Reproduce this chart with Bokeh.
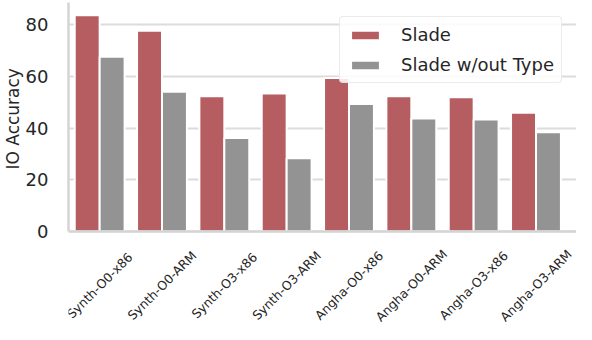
import math
from bokeh.plotting import figure
from bokeh.models import (ColumnDataSource, Range1d, FixedTicker, Title,
                          Legend, LegendItem, LabelSet)
from bokeh.core.properties import value
from bokeh.transform import dodge
from bokeh.embed import file_html
from bokeh.resources import INLINE

categories = ["Synth-O0-x86", "Synth-O0-ARM", "Synth-O3-x86", "Synth-O3-ARM",
              "Angha-O0-x86", "Angha-O0-ARM", "Angha-O3-x86", "Angha-O3-ARM"]
slade = [83.7, 77.7, 52.3, 53.4, 59.4, 52.3, 51.9, 45.9]
slade_wo_type = [67.6, 54.1, 36.2, 28.3, 49.3, 43.7, 43.3, 38.4]
y_ticks = [0, 20, 40, 60, 80]

FONT = "DejaVu Sans"
TXT = "#262626"
RED = "#b55d60"
GREY = "#939393"
SPINE = "#d4d4d4"

Y_TOP = 88.6
Y_LABEL_ROOM = 35.2   # space below zero (in value units) for rotated labels

idx = list(range(len(categories)))
src = ColumnDataSource(dict(x=idx, cat=categories, zero=[0] * len(idx),
                            slade=slade, wo=slade_wo_type))

p = figure(width=576, height=324, output_backend="svg", toolbar_location=None,
           x_range=Range1d(-0.5, 7.65), y_range=Range1d(-Y_LABEL_ROOM, Y_TOP),
           x_axis_location=None,
           min_border_left=68, min_border_right=0, min_border_top=2,
           min_border_bottom=2)
p.outline_line_color = None
p.background_fill_color = "white"
p.border_fill_color = "white"

# grid
p.ygrid.ticker = FixedTicker(ticks=y_ticks)
p.ygrid.grid_line_color = "#dcdcdc"
p.ygrid.grid_line_width = 2
p.xgrid.visible = False

r1 = p.vbar(x=dodge("x", -0.2, range=p.x_range), top="slade", width=0.4,
            source=src, fill_color=RED, line_color="white", line_width=2)
r2 = p.vbar(x=dodge("x", 0.2, range=p.x_range), top="wo", width=0.4,
            source=src, fill_color=GREY, line_color="white", line_width=2)

# bottom spine at zero, drawn above the bars
p.hspan(y=[0], line_color=SPINE, line_width=2.5)

# y axis (line only from 0 to the top)
ya = p.yaxis[0]
ya.ticker = FixedTicker(ticks=y_ticks)
ya.bounds = (0, Y_TOP)
ya.major_label_text_font = FONT
ya.major_label_text_font_size = "18px"
ya.major_label_text_color = TXT
ya.major_label_standoff = 14
ya.major_tick_line_color = None
ya.minor_tick_line_color = None
ya.axis_line_color = SPINE
ya.axis_line_width = 2.5

ylabel = Title(text="IO Accuracy", align="left", offset=153,
               text_font=FONT, text_font_size="17px",
               text_font_style="normal", text_color=TXT, standoff=0)
p.add_layout(ylabel, "left")

# category labels, rotated 45 degrees and centred under each group
labels = LabelSet(x="x", y="zero", text="cat", source=src,
                  angle=math.pi / 4, text_align="center",
                  text_baseline="middle", y_offset=-54,
                  text_font=value(FONT), text_font_size=value("12.5px"),
                  text_color=TXT)
p.add_layout(labels)

legend = Legend(items=[LegendItem(label="Slade", renderers=[r1]),
                       LegendItem(label="Slade w/out Type", renderers=[r2])],
                location="top_right")
legend.label_text_font = FONT
legend.label_text_font_size = "18px"
legend.label_text_color = TXT
legend.glyph_width = 36
legend.glyph_height = 12
legend.label_height = 20
legend.spacing = 9
legend.padding = 7
legend.margin = 14
legend.label_standoff = 18
legend.border_line_color = "#d8d8d8"
legend.border_line_width = 1.5
legend.border_radius = 4
legend.background_fill_alpha = 0.85
p.add_layout(legend)

open("out.html", "w").write(file_html(p, INLINE))
